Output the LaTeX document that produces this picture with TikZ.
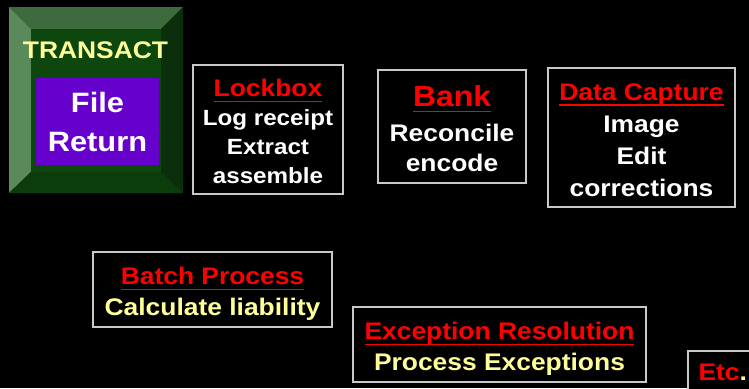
\documentclass[tikz,border=0pt]{standalone}
\usepackage{fontspec}
\setmainfont{Liberation Sans}[FakeStretch=1.1]
\usepackage{xcolor}

\definecolor{boxgray}{RGB}{200,200,200}
\definecolor{headred}{RGB}{255,0,0}
\definecolor{paleyellow}{RGB}{255,255,153}
\definecolor{filepurple}{RGB}{102,0,204}
\definecolor{bevelface}{RGB}{14,71,14}
\definecolor{beveltop}{RGB}{61,107,61}
\definecolor{bevelleft}{RGB}{90,138,90}
\definecolor{bevelright}{RGB}{10,47,10}
\definecolor{bevelbottom}{RGB}{12,60,12}

% red heading with a fixed underline
\newsavebox{\headbox}
\newcommand{\stagehead}[1]{\sbox{\headbox}{\color{headred}#1}%
  {\color{headred}\smash{\rlap{\rule[-5.5pt]{\wd\headbox}{1.5pt}}}}\usebox{\headbox}}

\tikzset{
  stage/.style={draw=boxgray, line width=1.5, fill=black, inner sep=0pt},
  stagetext/.style={text=white, align=center, inner sep=0pt},
}

\begin{document}
\begin{tikzpicture}[x=1pt,y=-1pt]

      % Background
      \fill[black] (0,0) rectangle (749,388);
      \useasboundingbox (0,0) rectangle (749,388);

      % Bevelled button
      \coordinate (o1) at (9,7);
      \coordinate (o2) at (183,7);
      \coordinate (o3) at (183,193);
      \coordinate (o4) at (9,193);
      \coordinate (i1) at (31,29);
      \coordinate (i2) at (161,29);
      \coordinate (i3) at (161,172);
      \coordinate (i4) at (31,172);
      \fill[beveltop] (o1) -- (o2) -- (i2) -- (i1) -- cycle;
      \fill[bevelleft] (o1) -- (i1) -- (i4) -- (o4) -- cycle;
      \fill[bevelright] (o2) -- (o3) -- (i3) -- (i2) -- cycle;
      \fill[bevelbottom] (o4) -- (i4) -- (i3) -- (o3) -- cycle;
      \fill[bevelface] (i1) rectangle (i3);

      \node[text=paleyellow, font=\fontsize{24}{29}\selectfont\bfseries] (transact) at (95.5,50.5) {TRANSACT};
      \node[fill=filepurple, text=white, align=center, inner sep=0pt,
            minimum width=123, minimum height=87,
            font=\fontsize{28}{39}\selectfont\bfseries] (filereturn) at (97.5,121.5) {File\\Return};

      % Top row
      \node[stage, minimum width=150, minimum height=129] (lockbox) at (268,129.5) {};
      \node[stagetext, font=\fontsize{22}{29}\selectfont\bfseries] (lockboxtext) at ([yshift=-2]lockbox.center)
        {{\fontsize{24}{29}\selectfont\stagehead{Lockbox}}\\Log receipt\\Extract\\assemble};

      \node[stage, minimum width=148, minimum height=113] (bank) at (452,126.5) {};
      \node[stagetext, font=\fontsize{24}{30}\selectfont\bfseries] (banktext) at ([yshift=-2.5]bank.center)
        {{\fontsize{29}{30}\selectfont\stagehead{Bank}}\\[5pt]Reconcile\\encode};

      \node[stage, minimum width=187, minimum height=139] (capture) at (641.5,137.5) {};
      \node[stagetext, font=\fontsize{24}{32}\selectfont\bfseries] (capturetext) at ([yshift=-2.5]capture.center)
        {\stagehead{Data Capture}\\Image\\Edit\\corrections};

      % Lower row
      \node[stage, minimum width=239, minimum height=75] (batch) at (212.5,289.5) {};
      \node[stagetext, text=paleyellow, font=\fontsize{24}{31}\selectfont\bfseries] (batchtext) at ([yshift=-4.5]batch.center)
        {\stagehead{Batch Process}\\Calculate liability};

      \node[stage, minimum width=293, minimum height=75] (exception) at (499.5,344.5) {};
      \node[stagetext, text=paleyellow, font=\fontsize{24}{31}\selectfont\bfseries] (exceptiontext) at ([yshift=-4.5]exception.center)
        {\stagehead{Exception Resolution}\\Process Exceptions};

      \node[stage, anchor=north west, minimum width=70, minimum height=44] (etc) at (687,350) {};
      \node[stagetext, font=\fontsize{24}{31}\selectfont\bfseries] (etctext) at (etc.center)
        {\textcolor{headred}{Etc}\textcolor{paleyellow}{.}};

  \end{tikzpicture}
\end{document}
